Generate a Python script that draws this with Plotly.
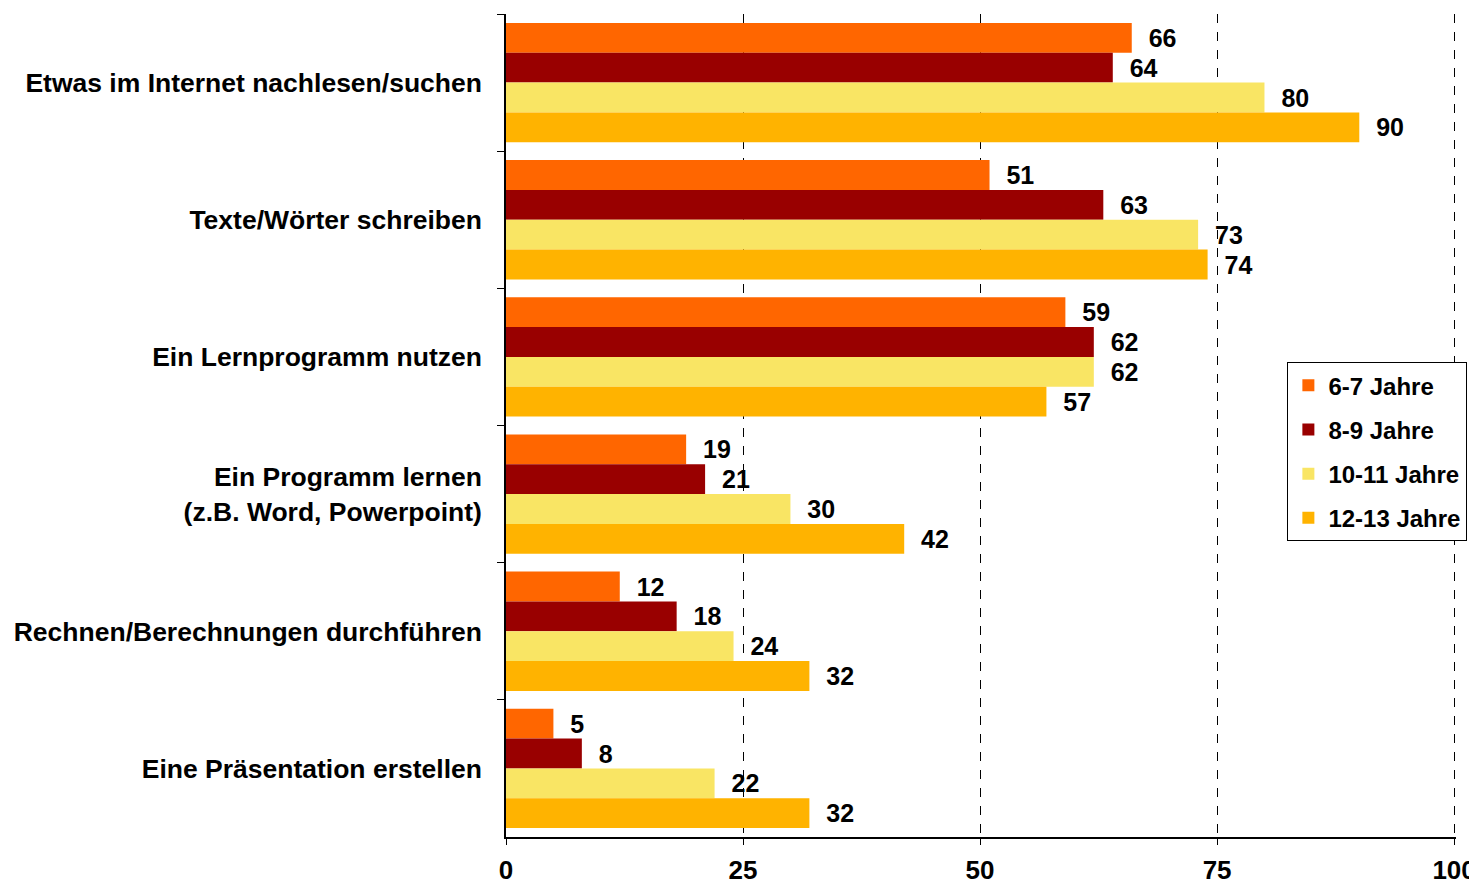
import plotly.graph_objects as go

categories = [
    "Etwas im Internet nachlesen/suchen",
    "Texte/Wörter schreiben",
    "Ein Lernprogramm nutzen",
    "Ein Programm lernen<br>(z.B. Word, Powerpoint)",
    "Rechnen/Berechnungen durchführen",
    "Eine Präsentation erstellen",
]
series_names = ["6-7 Jahre", "8-9 Jahre", "10-11 Jahre", "12-13 Jahre"]
v_6_7 = [66, 51, 59, 19, 12, 5]
v_8_9 = [64, 63, 62, 21, 18, 8]
v_10_11 = [80, 73, 62, 30, 24, 22]
v_12_13 = [90, 74, 57, 42, 32, 32]
colors = ["#FF6600", "#990000", "#F9E564", "#FFB300"]
x_ticks = [0, 25, 50, 75, 100]

FONT = "Liberation Sans, Arial, sans-serif"

fig = go.Figure()
for i, (name, vals, col) in enumerate(zip(series_names, [v_6_7, v_8_9, v_10_11, v_12_13], colors)):
    fig.add_trace(go.Bar(
        y=categories, x=vals, name=name, orientation="h",
        legendgroup=f"g{i}",
        marker=dict(color=col, line=dict(width=0)),
        text=["\u00a0\u00a0" + str(v) for v in vals],
        textposition="outside", cliponaxis=False, constraintext="none",
        textfont=dict(family=FONT, size=25, color="black", weight="bold"),
    ))

# page body has an 8px margin, so the figure is 8px smaller than the window
fig.update_layout(
    width=1469, height=873,
    paper_bgcolor="white", plot_bgcolor="white",
    barmode="group", bargap=0.13, bargroupgap=0,
    margin=dict(l=498, r=21, t=6, b=44, autoexpand=False),
    font=dict(family=FONT, color="black", weight="bold"),
    legend=dict(
        x=0.8225, y=0.577, xanchor="left", yanchor="top",
        bordercolor="black", borderwidth=1, bgcolor="white",
        font=dict(family=FONT, size=24, color="black", weight="bold"),
        traceorder="grouped", itemwidth=30, tracegroupgap=10,
    ),
    showlegend=True,
)
fig.update_xaxes(
    range=[0, 100.2], tickvals=x_ticks, ticktext=[str(t) for t in x_ticks],
    showgrid=True, gridcolor="black", gridwidth=1, griddash="dash",
    zeroline=False, showline=True, linecolor="black", linewidth=1.5,
    ticks="outside", ticklen=6, tickcolor="black",
    tickfont=dict(family=FONT, size=26, color="black", weight="bold"),
    ticklabelstandoff=3,
    fixedrange=True,
)
fig.update_yaxes(
    autorange="reversed", showline=True, linecolor="black", linewidth=1.5,
    ticks="outside", ticklen=7, tickcolor="black", tickson="boundaries",
    showgrid=False,
    tickfont=dict(family=FONT, size=26.5, color="black", weight="bold"),
    ticklabelstandoff=17,
)

fig.write_html("out.html")
